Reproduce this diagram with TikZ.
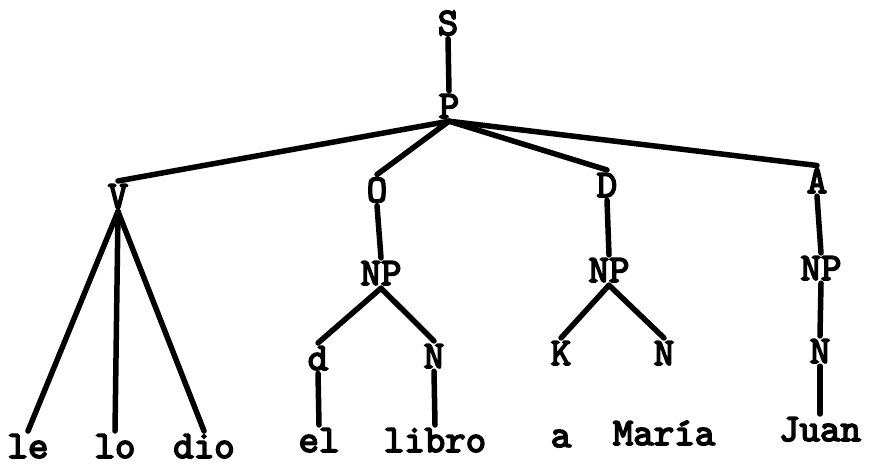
\documentclass[tikz,border=0pt]{standalone}
\usepackage{fontspec}
\newfontfamily\tw[Extension=.otf, FakeBold=4]{lmmono10-regular}
\begin{document}
\begin{tikzpicture}[x=1pt,y=-1pt,
  lab/.style={font=\tw\fontsize{39}{39}\selectfont, inner sep=3pt, anchor=base},
  br/.style={line width=5.5pt, line cap=round}]
\useasboundingbox (0,0) rectangle (870,468);
% nodes
\node[lab] (S) at (448,35) {S};
\node[lab] (P) at (449,118) {P};
\node[lab] (V) at (118,208) {V};
\node[lab] (O) at (377,202) {O};
\node[lab] (D) at (607,197) {D};
\node[lab] (A) at (817,193) {A};
\node[lab] (NPo) at (381,285) {NP};
\node[lab] (NPd) at (609,282) {NP};
\node[lab] (NPa) at (821,280) {NP};
\node[lab] (d) at (318,370) {d};
\node[lab] (No) at (434,368) {N};
\node[lab] (K) at (561,365) {K};
\node[lab] (Nd) at (664,365) {N};
\node[lab] (Na) at (820,363) {N};
\node[lab] (le) at (28,458) {le};
\node[lab] (lo) at (115,458) {lo};
\node[lab] (dio) at (204,458) {dio};
\node[lab] (el) at (319,452) {el};
\node[lab] (libro) at (435,452) {libro};
\node[lab] (a) at (561,447) {a};
\node[lab] (Maria) at (664,445) {María};
\node[lab] (Juan) at (820,441) {Juan};
% connectors
\draw[br] (S.south) -- (P.north);
\draw[br] (P.south) -- (V.north);
\draw[br] (P.south) -- (O.north);
\draw[br] (P.south) -- (D.north);
\draw[br] (P.south) -- (A.north);
\draw[br] (V.south) -- (le.north);
\draw[br] (V.south) -- (lo.north);
\draw[br] (V.south) -- (dio.north);
\draw[br] (O.south) -- (NPo.north);
\draw[br] (NPo.south) -- (d.north);
\draw[br] (NPo.south) -- (No.north);
\draw[br] (d.south) -- (el.north);
\draw[br] (No.south) -- (libro.north);
\draw[br] (D.south) -- (NPd.north);
\draw[br] (NPd.south) -- (K.north);
\draw[br] (NPd.south) -- (Nd.north);
\draw[br] (A.south) -- (NPa.north);
\draw[br] (NPa.south) -- (Na.north);
\draw[br] (Na.south) -- (Juan.north);
\end{tikzpicture}
\end{document}
